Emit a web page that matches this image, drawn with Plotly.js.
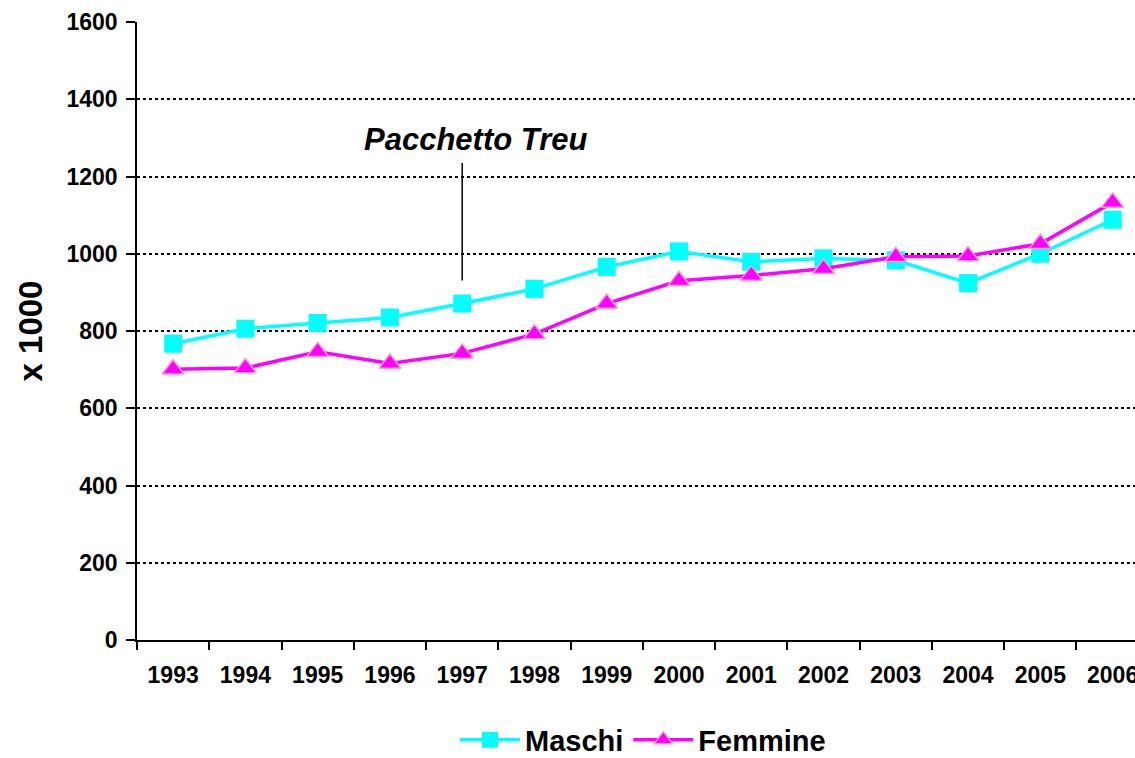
<!DOCTYPE html>
<html><head><meta charset="utf-8">
<script src="https://cdn.plot.ly/plotly-3.0.1.min.js"></script>
<style>html,body{margin:0;padding:0;background:#fff}#chart{width:1135px;height:758px}#err{position:absolute;left:300px;top:400px;color:red;font:14px sans-serif}</style>
</head><body><div id="chart"></div><div id="err"></div>
<script>
window.onerror = function(m){ document.getElementById('err').textContent += ' ERR: ' + m; };
const years = ['1993','1994','1995','1996','1997','1998','1999','2000','2001','2002','2003','2004','2005','2006'];
const maschi = [767, 806, 821, 835, 871, 909, 966, 1006, 979, 988, 983, 924, 1000, 1088];
const femmine = [701, 704, 746, 716, 742, 792, 871, 930, 944, 961, 992, 994, 1026, 1133];
const yTicks = [0, 200, 400, 600, 800, 1000, 1200, 1400, 1600];
const annotText = 'Pacchetto Treu';
const annotYear = '1997';
const annotLine = [931, 1235];
const annotTextY = 1295;

const font = {family: 'Liberation Sans, Arial, sans-serif', color: '#000'};
const traces = [
  {x: years, y: maschi, name: 'Maschi', type: 'scatter', mode: 'lines+markers',
   line: {color: '#00ffff', width: 3.5},
   marker: {symbol: 'square', size: 18, color: '#00ffff', line: {color: '#00ffff', width: 0}}},
  {x: years, y: femmine, name: 'Femmine', type: 'scatter', mode: 'lines+markers',
   line: {color: '#ff00ff', width: 3.5},
   marker: {symbol: 'triangle-up', size: 19, color: '#ff00ff', line: {color: '#ff99cc', width: 1.5}}}
];
const idx = years.indexOf(annotYear);
const layout = {
  width: 1135, height: 758,
  margin: {l: 137, r: 0, t: 22, b: 118, autoexpand: false},
  paper_bgcolor: '#fff', plot_bgcolor: '#fff',
  showlegend: true,
  legend: {orientation: 'h', xref: 'container', yref: 'container', x: 0.5665, xanchor: 'center',
           y: 0.024, yanchor: 'middle', itemwidth: 60,
           font: Object.assign({}, font, {size: 29, weight: 'bold'})},
  xaxis: {type: 'category', range: [-0.5, 13.31], showline: true, linecolor: '#000', linewidth: 1.5,
          ticks: 'outside', tickson: 'boundaries', ticklen: 8, tickcolor: '#000', tickwidth: 1.5,
          showgrid: false, zeroline: false, ticklabelstandoff: 14,
          tickfont: Object.assign({}, font, {size: 23, weight: 'bold'})},
  yaxis: {range: [0, 1600], tickvals: yTicks, showline: true, linecolor: '#000', linewidth: 1.5,
          ticks: 'outside', ticklen: 9, tickcolor: '#000', tickwidth: 1.5,
          showgrid: true, gridcolor: '#000', gridwidth: 1.5, griddash: 'dot', zeroline: false,
          ticklabelstandoff: 4,
          tickfont: Object.assign({}, font, {size: 23, weight: 'bold'}),
          title: {text: 'x 1000', font: Object.assign({}, font, {size: 33, weight: 'bold'}), standoff: 14}},
  shapes: [{type: 'line', xref: 'x', yref: 'y', x0: idx, x1: idx, y0: annotLine[0], y1: annotLine[1],
            line: {color: '#000', width: 1.5}}],
  annotations: [{x: idx, y: annotTextY, xref: 'x', yref: 'y', text: '<b><i>' + annotText + '</i></b>',
                 showarrow: false, xshift: 13, font: Object.assign({}, font, {size: 31})}]
};
Plotly.newPlot('chart', traces, layout, {displayModeBar: false, responsive: false}).catch(function(e){
  document.getElementById('err').textContent += ' P: ' + e; });
</script></body></html>
